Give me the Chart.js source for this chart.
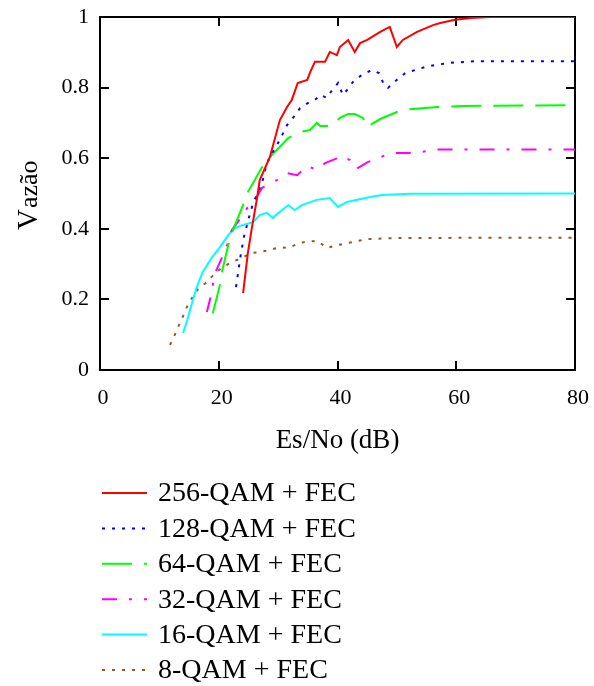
<!DOCTYPE html>
<html><head><meta charset="utf-8">
<script src="https://cdn.jsdelivr.net/npm/chart.js@4.4.1/dist/chart.umd.min.js"></script>
<style>html,body{margin:0;padding:0;background:#fff;}canvas{display:block;}</style>
</head><body>
<canvas id="c" width="594" height="686"></canvas>
<script>
// ---- data ----
const xTicks = [0, 20, 40, 60, 80];
const yTicks = [0, 0.2, 0.4, 0.6, 0.8, 1];
const xTitle = 'Es/No (dB)';
const yTitle = 'Vazão';
const seriesLabels = ['256-QAM + FEC', '128-QAM + FEC', '64-QAM + FEC', '32-QAM + FEC', '16-QAM + FEC', '8-QAM + FEC'];

const qam256X = [24.1,24.9,25.6,26.4,26.9,28.6,30.3,31.5,32.3,33.3,34.9,35.4,36.2,37.9,38.7,39.9,40.4,41.8,42.9,43.8,45.0,47.2,48.8,50.0,51.0,53.4,56.1,57.3,59.8,62.5,65.7,80];
const qam256Y = [0.218,0.331,0.405,0.482,0.538,0.603,0.708,0.745,0.765,0.813,0.822,0.844,0.873,0.873,0.901,0.892,0.915,0.935,0.901,0.926,0.935,0.958,0.972,0.915,0.935,0.958,0.977,0.983,0.992,0.997,1.0,1.0];

const qam128X = [22.9,23.7,24.3,25.3,25.8,27.3,28.1,29.0,29.8,30.7,31.5,32.5,33.7,35.0,36.2,37.1,38.2,39.1,40.1,40.9,41.6,42.6,44.1,45.8,47.0,47.7,48.5,50.0,51.4,53.1,54.7,56.4,58.9,63.5,80];
const qam128Y = [0.235,0.326,0.382,0.445,0.473,0.530,0.586,0.615,0.637,0.666,0.694,0.714,0.742,0.756,0.765,0.779,0.771,0.793,0.813,0.779,0.793,0.816,0.836,0.850,0.841,0.813,0.799,0.822,0.841,0.850,0.858,0.864,0.870,0.875,0.875];

const qam64X = [19.0,20.2,20.5,21.6,22.4,24.1,24.9,27.3,28.6,31.7,33.7,35.4,36.5,37.1,38.7,40.4,41.8,42.9,44.3,45.0,45.8,47.2,50.0,52.2,56.8,61.1,80];
const qam64Y = [0.161,0.241,0.275,0.354,0.397,0.467,0.504,0.575,0.603,0.657,0.674,0.680,0.700,0.691,0.691,0.714,0.725,0.725,0.714,0.688,0.697,0.711,0.731,0.739,0.745,0.748,0.75];

const qam32X = [18.0,18.5,19.0,19.4,20.5,21.4,22.2,23.2,24.8,26.4,27.3,29.8,31.5,33.2,34.9,36.5,37.9,40.1,40.4,42.1,43.1,45.1,47.7,49.3,51.9,54.4,56.4,80];
const qam32Y = [0.164,0.198,0.241,0.275,0.317,0.354,0.397,0.419,0.459,0.490,0.516,0.538,0.558,0.552,0.578,0.567,0.586,0.601,0.606,0.595,0.569,0.589,0.606,0.615,0.615,0.618,0.625,0.625];

const qam16X = [14.0,14.7,15.5,16.3,17.3,18.9,20.2,21.6,22.7,24.1,25.8,26.9,28.1,29.1,30.3,31.7,32.8,34.0,36.5,38.7,40.1,41.6,45.5,47.5,52.2,80];
const qam16Y = [0.105,0.142,0.190,0.235,0.278,0.320,0.348,0.382,0.402,0.411,0.419,0.439,0.445,0.431,0.448,0.467,0.453,0.467,0.482,0.487,0.462,0.476,0.490,0.496,0.499,0.5];

const qam8X = [11.8,12.5,13.3,14.0,14.7,15.5,16.5,18.0,19.4,20.5,22.2,23.9,25.3,26.9,28.6,30.3,31.7,33.7,35.4,36.7,38.2,40.1,41.8,45.1,50.5,80];
const qam8Y = [0.071,0.096,0.127,0.153,0.181,0.204,0.229,0.249,0.275,0.289,0.306,0.317,0.331,0.334,0.340,0.348,0.346,0.360,0.365,0.365,0.346,0.354,0.360,0.371,0.374,0.375];

// ---- styling ----
const SERIF = '"Liberation Serif","Times New Roman",serif';
const seriesX = [qam256X, qam128X, qam64X, qam32X, qam16X, qam8X];
const seriesY = [qam256Y, qam128Y, qam64Y, qam32Y, qam16Y, qam8Y];
const seriesColors = ['#ff0000', '#0000ff', '#00ff00', '#ff00ff', '#00ffff', '#8b5a2b'];
const seriesDash = [[], [3, 7], [30, 12], [15, 12, 3, 12], [], [3, 7]];
const seriesWidth = [2, 2, 2, 2, 2, 2];

const pts = (xs, ys) => xs.map((x, i) => ({ x: x, y: ys[i] }));

const datasets = seriesLabels.map((label, i) => ({
  label: label,
  data: pts(seriesX[i], seriesY[i]),
  borderColor: seriesColors[i],
  backgroundColor: seriesColors[i],
  borderWidth: seriesWidth[i],
  borderDash: seriesDash[i],
  pointRadius: 0,
  fill: false,
  tension: 0
}));

const framePlugin = {
  id: 'frame',
  beforeDatasetsDraw(chart) {
    const { ctx, chartArea: { left, top, right, bottom }, scales: { x, y } } = chart;
    ctx.save();
    ctx.strokeStyle = '#000';
    ctx.lineWidth = 2;
    ctx.strokeRect(left, top, right - left, bottom - top);
    ctx.beginPath();
    const tl = 9;
    xTicks.forEach(v => {
      if (v <= x.min || v >= x.max) return;
      const px = Math.round(x.getPixelForValue(v));
      ctx.moveTo(px, bottom); ctx.lineTo(px, bottom - tl);
      ctx.moveTo(px, top); ctx.lineTo(px, top + tl);
    });
    yTicks.forEach(v => {
      if (v <= y.min || v >= y.max) return;
      const py = Math.round(y.getPixelForValue(v));
      ctx.moveTo(left, py); ctx.lineTo(left + tl, py);
      ctx.moveTo(right, py); ctx.lineTo(right - tl, py);
    });
    ctx.stroke();
    ctx.restore();
  },
  afterDraw(chart) {
    const { ctx } = chart;
    // y title: large first letter, rest smaller
    ctx.save();
    ctx.translate(37, 230);
    ctx.rotate(-Math.PI / 2);
    ctx.fillStyle = '#000';
    ctx.textBaseline = 'alphabetic';
    ctx.textAlign = 'left';
    ctx.font = '29px ' + SERIF;
    const big = yTitle.slice(0, 1), rest = yTitle.slice(1);
    ctx.fillText(big, 0, 0);
    const w = ctx.measureText(big).width;
    ctx.font = '26px ' + SERIF;
    ctx.fillText(rest, w + 1, 0);
    ctx.restore();

    // legend
    ctx.save();
    chart.data.datasets.forEach((ds, i) => {
      const cy = 493 + i * 35.4;
      ctx.beginPath();
      ctx.strokeStyle = ds.borderColor;
      ctx.lineWidth = ds.borderWidth;
      ctx.setLineDash(ds.borderDash || []);
      ctx.moveTo(102, cy); ctx.lineTo(147, cy);
      ctx.stroke();
      ctx.setLineDash([]);
      ctx.fillStyle = '#000';
      ctx.font = '28px ' + SERIF;
      ctx.textBaseline = 'middle';
      ctx.textAlign = 'left';
      ctx.fillText(ds.label, 158, cy + 1);
    });
    ctx.restore();
  }
};

new Chart(document.getElementById('c'), {
  type: 'line',
  data: { datasets: datasets },
  plugins: [framePlugin],
  options: {
    responsive: false,
    animation: false,
    devicePixelRatio: 1,
    layout: { padding: { top: 17, right: 19, left: 0, bottom: 216 } },
    plugins: { legend: { display: false }, tooltip: { enabled: false } },
    scales: {
      x: {
        type: 'linear', min: 0, max: 80,
        afterBuildTicks: s => { s.ticks = xTicks.map(v => ({ value: v })); },
        afterFit: s => { s.height = 100; },
        grid: { display: false },
        border: { display: false },
        ticks: { font: { family: SERIF, size: 22 }, color: '#000', padding: 7, labelOffset: 3, maxRotation: 0, autoSkip: false,
                 callback: v => String(v) },
        title: { display: true, text: xTitle, color: '#000', font: { family: SERIF, size: 27 }, padding: { top: 0, bottom: 13 } }
      },
      y: {
        type: 'linear', min: 0, max: 1,
        afterBuildTicks: s => { s.ticks = yTicks.map(v => ({ value: v })); },
        afterFit: s => { s.width = 100; },
        grid: { display: false },
        border: { display: false },
        ticks: { font: { family: SERIF, size: 22 }, color: '#000', padding: 3, autoSkip: false,
                 callback: v => String(Math.round(v * 10) / 10) }
      }
    }
  }
});
</script>
</body></html>
